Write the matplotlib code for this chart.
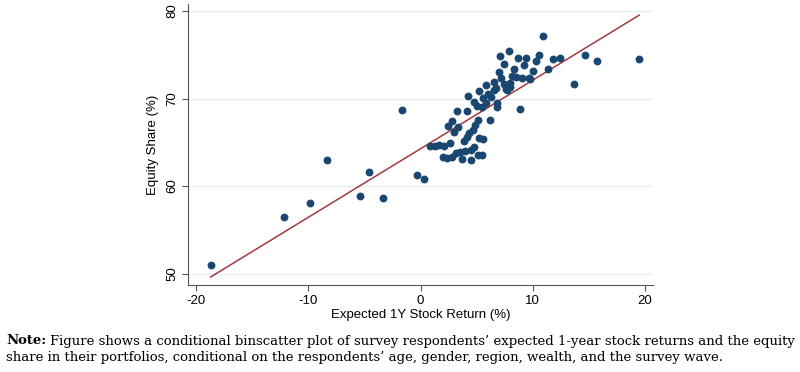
import matplotlib
matplotlib.use("Agg")
import matplotlib.pyplot as plt

plt.rcParams['axes.unicode_minus'] = False

# binscatter points: expected 1Y return (%) and equity share (%)
exp_return = [
    -18.72, -12.16, -9.90, -8.30, -4.62, -5.36, -3.31, -1.62, -0.28, 0.34,
    10.91, 14.68, 15.72, 19.50, 13.67, 11.83, 12.40, 11.36, 10.56, 10.29, 8.83,
    7.08, 7.91, 8.66, 9.43, 7.41, 9.20, 8.37, 6.97, 7.17, 8.12, 8.51, 9.01,
    9.70, 10.00, 9.76, 7.47, 7.68, 7.97, 6.51, 5.84, 6.57, 6.05, 5.25, 4.27,
    5.60, 4.77, 5.00, 5.46, 5.84, 6.85, 6.79, 6.20, 4.11, 3.28, 5.09, 4.89,
    4.64, 4.35, 4.11, 3.88, 2.77, 2.48, 3.37, 3.02, 5.21, 5.54, 0.85, 1.29,
    1.68, 2.13, 2.63, 4.77, 4.47, 3.96, 3.52, 3.16, 2.77, 1.98, 2.34, 3.67,
    4.50, 5.09, 5.44, 7.60, 8.00, 6.30, 6.70,
]
equity_share = [
    50.95, 56.48, 58.12, 63.03, 61.62, 58.92, 58.61, 68.72, 61.32, 60.86,
    77.14, 74.97, 74.28, 74.55, 71.65, 74.55, 74.66, 73.33, 74.97, 74.28, 68.79,
    74.85, 75.46, 74.66, 74.66, 73.90, 73.82, 73.40, 73.06, 72.30, 72.57, 72.42, 72.30,
    72.30, 73.14, 72.22, 71.65, 70.96, 71.35, 71.92, 71.54, 70.93, 70.55, 70.90, 70.32,
    70.01, 69.59, 69.17, 69.06, 69.44, 69.06, 69.51, 67.53, 68.56, 68.56, 67.53, 66.96,
    66.45, 66.07, 65.61, 65.15, 67.46, 66.85, 66.70, 66.21, 65.49, 65.42, 64.56, 64.56,
    64.67, 64.56, 64.87, 64.49, 64.10, 63.97, 63.86, 63.78, 63.34, 63.28, 63.20, 63.13,
    62.94, 63.59, 63.59, 71.10, 71.80, 70.20, 71.20,
]

# linear fit shown in the figure
fit_slope = 0.783
fit_intercept = 64.27

x_ticks = [-20, -10, 0, 10, 20]
y_ticks = [50, 60, 70, 80]

note_line1 = ('Figure shows a conditional binscatter plot of survey respondents\u2019 expected '
              '1-year stock returns and the equity')
note_line2 = ('share in their portfolios, conditional on the respondents\u2019 age, gender, '
              'region, wealth, and the survey wave.')

fig = plt.figure(figsize=(8, 3.72), dpi=100)
ax = fig.add_axes([0.235, 0.234, 0.581, 0.755])

ax.scatter(exp_return, equity_share, s=32, color='#1a476f', zorder=3, linewidths=0)
x0, x1 = min(exp_return), max(exp_return)
ax.plot([x0, x1], [fit_intercept + fit_slope * x0, fit_intercept + fit_slope * x1],
        color='#a3393f', lw=1.1, zorder=2)

ax.set_xlim(-20.74, 20.71)
ax.set_ylim(48.7, 80.8)
ax.set_xticks(x_ticks)
ax.set_yticks(y_ticks)
ax.set_xticklabels([str(t) for t in x_ticks], fontsize=9.5, family='Liberation Sans')
ax.set_yticklabels([str(t) for t in y_ticks], fontsize=9.5, family='Liberation Sans',
                   rotation=90, va='center')
ax.tick_params(direction='out', length=4, width=0.8, color='#555555', pad=3)
ax.yaxis.grid(True, color='#e6eef0', lw=1)
ax.set_axisbelow(True)
for s in ['top', 'right']:
    ax.spines[s].set_visible(False)
for s in ['left', 'bottom']:
    ax.spines[s].set_color('#555555')
    ax.spines[s].set_linewidth(0.8)

ax.set_xlabel('Expected 1Y Stock Return (%)', fontsize=9.5, family='Liberation Sans', labelpad=2)
ax.set_ylabel('Equity Share (%)', fontsize=9.5, family='Liberation Sans', labelpad=5)

# note below the chart: bold "Note:" followed by plain text
note_fs = 9.58
lbl = fig.text(6 / 800, 1 - 341 / 372, 'Note:', fontsize=note_fs, family='DejaVu Serif',
               weight='bold', va='center')
fig.canvas.draw()
bb = lbl.get_window_extent()
fig.text((bb.x1 + 4) / 800, 1 - 341 / 372, note_line1,
         fontsize=note_fs, family='DejaVu Serif', va='center')
fig.text(6 / 800, 1 - 357 / 372, note_line2,
         fontsize=note_fs, family='DejaVu Serif', va='center')

fig.savefig('out.png', dpi=100, facecolor='white')
